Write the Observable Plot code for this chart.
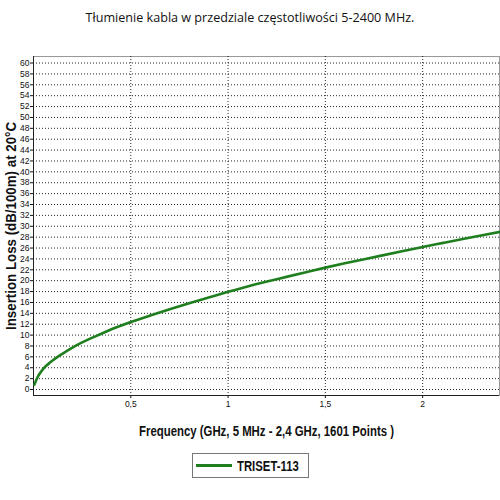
<!DOCTYPE html>
<html>
<head>
<meta charset="utf-8">
<script src="https://cdn.jsdelivr.net/npm/d3@7"></script>
<script src="https://cdn.jsdelivr.net/npm/@observablehq/plot@0.6"></script>
<style>
  body { margin: 0; background: #fff; width: 500px; }
  #title {
    height: 40px; line-height: 36px; text-align: center;
    font-family: "Open Sans", sans-serif; font-size: 12.6px; color: #111;
  }
  #legend-row { display: flex; justify-content: center; margin-top: 3px; padding-left: 1px; }
  #legend {
    box-sizing: border-box; width: 117px; height: 25px;
    border: 1px solid #777; display: flex; align-items: center;
    padding-left: 3px; white-space: nowrap; overflow: hidden;
    font-family: "Liberation Sans", sans-serif;
    font-weight: bold; font-size: 14px; color: #111;
  }
  #legend .swatch { width: 36px; height: 0; border-top: 3px solid #1f7f1f; margin-right: 5px; flex: none; }
  #legend .name { display: inline-block; transform: scaleX(0.81); transform-origin: left center; }
</style>
</head>
<body>
<div id="title">Tłumienie kabla w przedziale częstotliwości 5-2400 MHz.</div>
<div id="chart"></div>
<div id="legend-row"><div id="legend"><span class="swatch"></span><span class="name"></span></div></div>
<script>
// Insertion loss (GHz, dB/100m).
const freqGHz = [0.005, 0.02, 0.05, 0.09, 0.15, 0.2, 0.25, 0.33, 0.41, 0.5, 0.6, 0.7, 0.8, 0.9, 1.0,
  1.1, 1.2, 1.3, 1.4, 1.5, 1.6, 1.7, 1.8, 1.9, 2.0, 2.1, 2.2, 2.3, 2.4];
const lossDb = [0.9, 2.2, 3.8, 5.1, 6.6, 7.7, 8.65, 9.95, 11.2, 12.4, 13.6, 14.75, 15.85, 16.9, 17.95,
  18.95, 19.85, 20.7, 21.55, 22.4, 23.2, 23.95, 24.7, 25.45, 26.2, 26.9, 27.6, 28.3, 29.0];
const xTicks = [0.5, 1, 1.5, 2];
const yTicks = d3.range(0, 61, 2);
const seriesName = "TRISET-113";

const rows = freqGHz.map((f, i) => ({ f, loss: lossDb[i] }));
const grid = { stroke: "#000", strokeWidth: 1, strokeDasharray: "1,2", strokeOpacity: 0.85 };

const chart = Plot.plot({
  width: 500,
  height: 410,
  marginLeft: 33,
  marginRight: 1,
  marginTop: 16,
  marginBottom: 55,
  style: { background: "#fff", color: "#111", fontFamily: '"Liberation Sans", sans-serif', fontSize: 8.5 },
  x: { domain: [0, 2.395] },
  y: { domain: [-1.1, 61.2] },
  marks: [
    Plot.frame({ stroke: "#999" }),
    Plot.gridX(xTicks, grid),
    Plot.gridY(yTicks, grid),
    Plot.axisX({
      ticks: xTicks, tickSize: 3, tickPadding: 2,
      tickFormat: (d) => String(d).replace(".", ","),
      label: "Frequency (GHz, 5 MHz - 2,4 GHz, 1601 Points )",
      labelAnchor: "center", labelArrow: "none", labelOffset: 40
    }),
    Plot.axisY({
      ticks: yTicks, tickSize: 3, tickPadding: 1,
      label: "Insertion Loss (dB/100m) at 20°C",
      labelAnchor: "center", labelArrow: "none", labelOffset: 27
    }),
    Plot.ruleX([0], { stroke: "#222" }),
    Plot.ruleY([-1.1], { stroke: "#222" }),
    Plot.line(rows, { x: "f", y: "loss", stroke: "#1f7f1f", strokeWidth: 2.6, curve: "monotone-x" })
  ]
});
document.getElementById("chart").append(chart);
document.querySelector("#legend .name").textContent = seriesName;

// Reference uses a narrow bold face; squeeze the axis titles to its widths.
d3.select(chart).selectAll("[aria-label='x-axis label'] text")
  .style("font-size", "14px").style("font-weight", "bold")
  .attr("textLength", 255).attr("lengthAdjust", "spacingAndGlyphs");
d3.select(chart).selectAll("[aria-label='y-axis label'] text")
  .style("font-size", "14px").style("font-weight", "bold")
  .attr("textLength", 208).attr("lengthAdjust", "spacingAndGlyphs");
</script>
</body>
</html>
